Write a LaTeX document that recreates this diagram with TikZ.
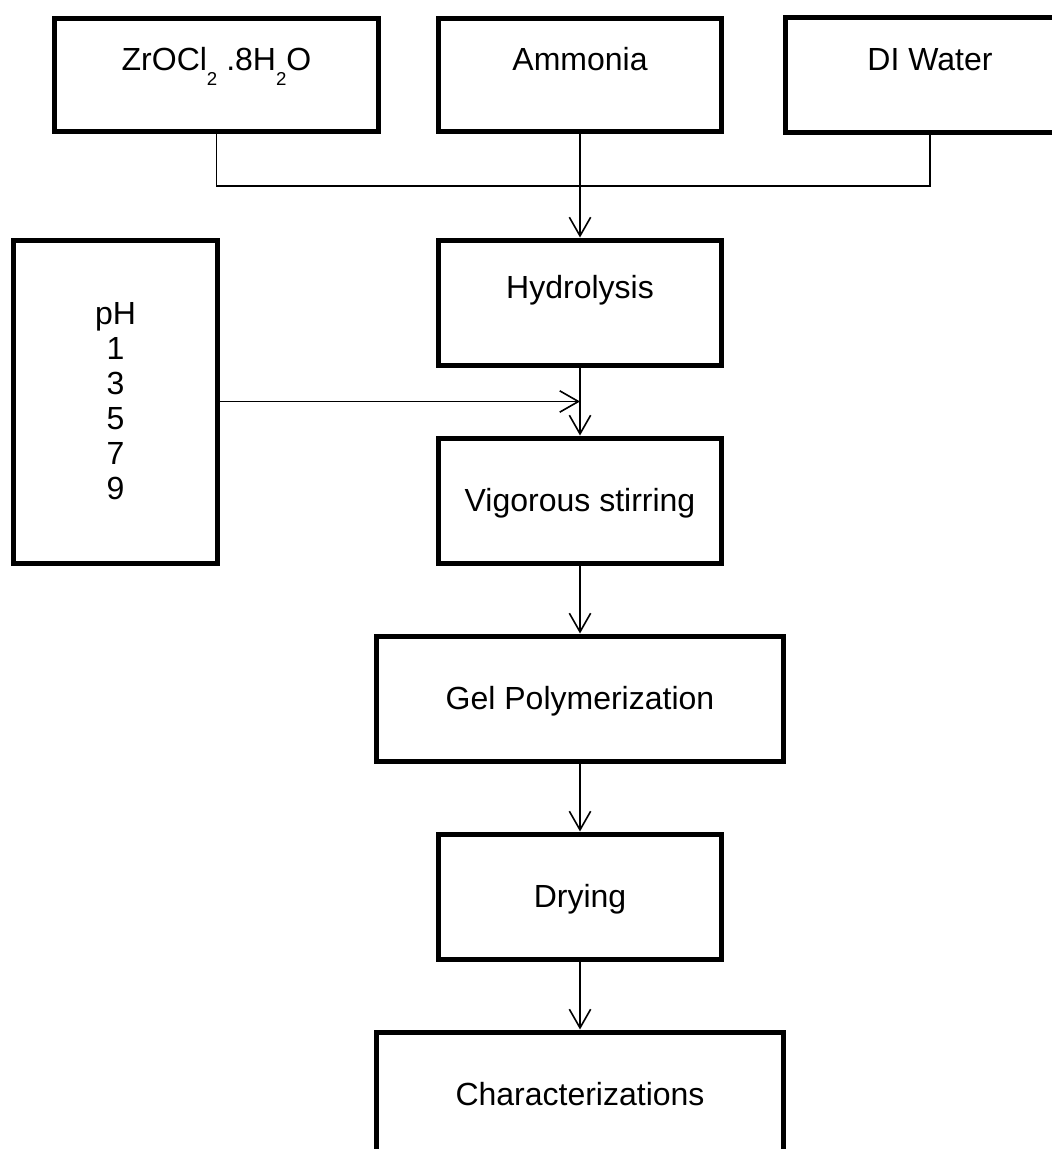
\documentclass[tikz,border=0pt]{standalone}
\usepackage{fontspec}
\setmainfont{Liberation Sans}
\usetikzlibrary{positioning,arrows.meta}
\newcommand{\chemsub}[1]{\raisebox{-11pt}{\fontsize{14pt}{16pt}\selectfont #1}}

\begin{document}
\begin{tikzpicture}[
node distance = 51pt,
stage/.style={rectangle, draw=black, line width=3.75pt, inner sep=0pt, minimum width=212.25pt, minimum height=93.75pt, font=\fontsize{24pt}{26.25pt}\selectfont, text height=16.5pt, text depth=0pt},
widestage/.style={stage, minimum width=305.25pt},
raised/.style={text depth=22.5pt},
raw/.style={stage, raised, minimum height=84pt},
phbox/.style={rectangle, draw=black, line width=3.75pt, inner sep=0pt, minimum width=153pt, minimum height=242.25pt, align=center, font=\fontsize{24pt}{26.25pt}\selectfont},
arr/.style={-{Straight Barb[length=14pt,width=16pt]}, line width=1.2pt},
con/.style={line width=1.2pt}]

\useasboundingbox (0,0) rectangle (789pt,-861.75pt);

\node[raw] (amm) at (435pt,-56.25pt) {Ammonia};
\node[raw, minimum width=243pt] (zr) [left=41.25pt of amm] {ZrOCl\chemsub{2} .8H\chemsub{2}O};
\node[raw, minimum width=216.75pt, minimum height=86.25pt] (diw) [right=44.25pt of amm] {DI Water};
\coordinate[below=39.4pt of amm] (joint);

\node[stage, raised] (hyd) [below=78pt of amm] {Hydrolysis};
\coordinate[below=25.5pt of hyd] (hv);
\node[stage] (vig) [below=of hyd] {Vigorous stirring};
\node[widestage] (gel) [below=of vig] {Gel Polymerization};
\node[stage] (dry) [below=of gel] {Drying};
\node[widestage] (cha) [below=of dry] {Characterizations};

\node[phbox] (ph) [left=270pt of hv] {pH\\1\\3\\5\\7\\9};

\draw[con](zr.south) |- (joint) -| (diw.south);
\draw[arr](amm) -- (hyd);
\draw[arr](hyd) -- (vig);
\draw[arr](ph) -- (hv);
\draw[arr](vig) -- (gel);
\draw[arr](gel) -- (dry);
\draw[arr](dry) -- (cha);
\end{tikzpicture}
\end{document}
